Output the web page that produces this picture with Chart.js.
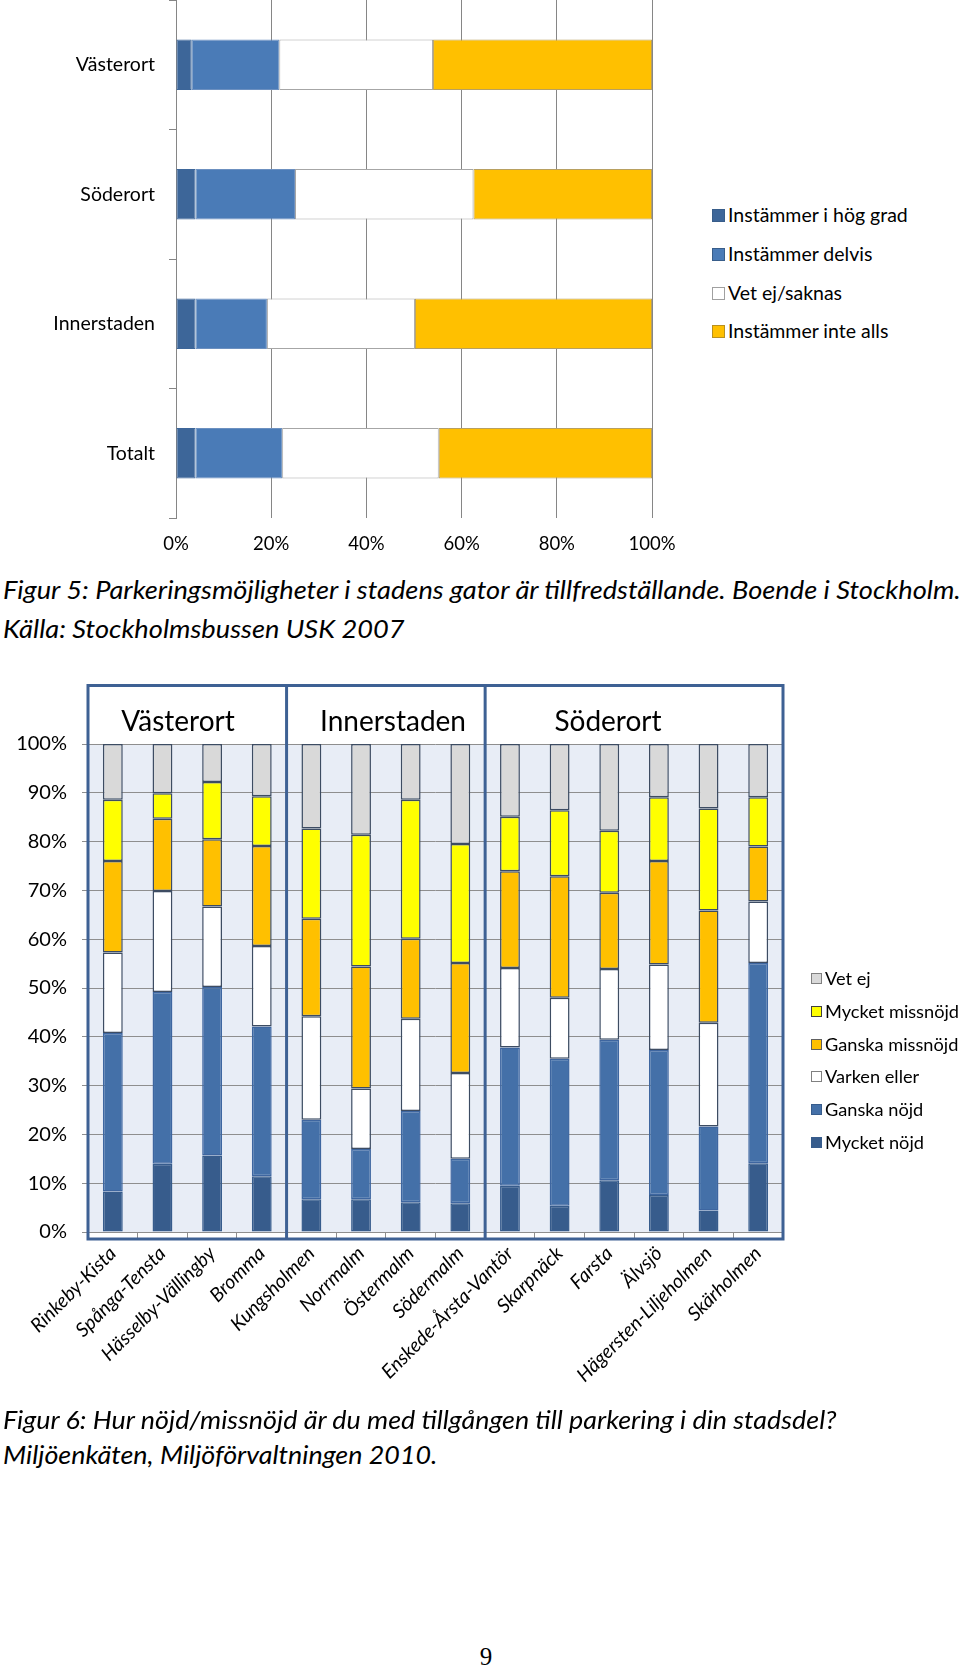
<!DOCTYPE html>
<html><head><meta charset="utf-8">
<script src="https://cdn.jsdelivr.net/npm/chart.js@4.4.1/dist/chart.umd.min.js"></script>
<style>
body{margin:0;width:960px;height:1671px;position:relative;background:#fff;overflow:hidden;font-family:Lato,sans-serif;color:#000;}
.wrap{position:absolute;}
#c1wrap{left:0;top:0;width:700px;height:560px;}
#c2wrap{left:0;top:684px;width:960px;height:720px;}
.cap{position:absolute;left:3px;font-family:Lato,sans-serif;font-style:italic;white-space:nowrap;transform-origin:0 50%;line-height:30px;height:30px;}
.leg{position:absolute;white-space:nowrap;}
.box{position:absolute;box-sizing:border-box;}
.hdr{position:absolute;font-family:Lato,sans-serif;font-size:28px;line-height:32px;height:32px;transform:translateX(-50%);white-space:nowrap;}
#pg{position:absolute;left:486px;top:1643px;transform:translateX(-50%);font-family:"Liberation Serif","DejaVu Serif",serif;font-size:25px;line-height:28px;}
</style>
</head><body>
<div id="c1wrap" class="wrap"><canvas id="c1" width="700" height="560"></canvas></div>
<div id="c2wrap" class="wrap"><canvas id="c2" width="960" height="720"></canvas></div>
<div id="cap1a" class="cap" style="top:574px;font-size:26px;">Figur 5: Parkeringsmöjligheter i stadens gator är tillfredställande. Boende i Stockholm.</div>
<div id="cap1b" class="cap" style="top:613px;font-size:26px;">Källa: Stockholmsbussen USK 2007</div>
<div id="cap2a" class="cap" style="top:1404px;font-size:26px;">Figur 6: Hur nöjd/missnöjd är du med tillgången till parkering i din stadsdel?</div>
<div id="cap2b" class="cap" style="top:1439px;font-size:26px;">Miljöenkäten, Miljöförvaltningen 2010.</div>
<div id="pg">9</div>
<script>
// ---------- Chart 1 data ----------
const areas = ['Västerort', 'Söderort', 'Innerstaden', 'Totalt'];
const seriesNames1 = ['Instämmer i hög grad', 'Instämmer delvis', 'Vet ej/saknas', 'Instämmer inte alls'];
const hogGrad = [3.3, 4.1, 4.1, 4.1];
const delvis = [18.4, 20.9, 15.0, 18.2];
const vetEjSaknas = [32.3, 37.5, 31.1, 32.9];
const inteAlls = [46.0, 37.5, 49.8, 44.8];
const xTicks1 = [0, 20, 40, 60, 80, 100];

// ---------- Chart 2 data ----------
const districts = ['Rinkeby-Kista', 'Spånga-Tensta', 'Hässelby-Vällingby', 'Bromma', 'Kungsholmen', 'Norrmalm', 'Östermalm', 'Södermalm', 'Enskede-Årsta-Vantör', 'Skarpnäck', 'Farsta', 'Älvsjö', 'Hägersten-Liljeholmen', 'Skärholmen'];
const sections = ['Västerort', 'Innerstaden', 'Söderort'];
const sectionSizes = [4, 4, 6];
const seriesNames2 = ['Mycket nöjd', 'Ganska nöjd', 'Varken eller', 'Ganska missnöjd', 'Mycket missnöjd', 'Vet ej'];
const mycketNojd = [8.3, 14.0, 15.7, 11.4, 6.7, 6.7, 6.1, 5.9, 9.5, 5.4, 10.6, 7.6, 4.4, 14.1];
const ganskaNojd = [32.5, 35.2, 34.5, 30.7, 16.3, 10.3, 18.7, 9.1, 28.3, 30.1, 28.8, 29.7, 17.2, 41.0];
const varkenEller = [16.5, 20.7, 16.5, 16.5, 21.2, 12.4, 18.9, 17.6, 16.3, 12.5, 14.5, 17.5, 21.3, 12.6];
const ganskaMissnojd = [18.7, 14.8, 13.8, 20.5, 20.0, 25.0, 16.4, 22.5, 19.8, 24.9, 15.6, 21.2, 23.0, 11.3];
const mycketMissnojd = [12.6, 5.2, 11.7, 10.2, 18.5, 27.0, 28.5, 24.4, 11.2, 13.5, 12.7, 13.1, 20.9, 10.1];
const vetEj = [11.4, 10.1, 7.8, 10.7, 17.3, 18.6, 11.4, 20.5, 14.9, 13.6, 17.8, 10.9, 13.2, 10.9];

Chart.defaults.color = '#000';
Chart.defaults.font.family = 'Lato, sans-serif';

// ---------- Chart 1 ----------
const c1colors = ['#3D6699', '#4A7BB7', '#FFFFFF', '#FFC000'];
const c1borders = ['#3D6699', '#6C90C0', '#A6A6A6', '#B8A060'];
const c1values = [hogGrad, delvis, vetEjSaknas, inteAlls];
new Chart(document.getElementById('c1'), {
  type: 'bar',
  data: {
    labels: areas,
    datasets: seriesNames1.map((n, i) => ({
      label: n, data: c1values[i], backgroundColor: c1colors[i], borderColor: c1borders[i],
      borderWidth: 1, borderSkipped: false, barPercentage: 0.39, categoryPercentage: 1
    }))
  },
  options: {
    indexAxis: 'y', responsive: false, animation: false,
    layout: { padding: { left: 0, top: 0, right: 48, bottom: 0 } },
    plugins: { legend: { display: false }, tooltip: { enabled: false } },
    scales: {
      x: {
        stacked: true, min: 0, max: 100,
        afterBuildTicks: s => { s.ticks = xTicks1.map(v => ({ value: v })); },
        afterFit: s => { s.height = 42; },
        grid: { color: '#868686', lineWidth: 1, drawTicks: false },
        border: { display: false },
        ticks: { padding: 15, font: { size: 18.5 }, callback: v => v + '%' }
      },
      y: {
        stacked: true,
        afterFit: s => { s.width = 176; s.paddingTop = 0; s.paddingBottom = 0; },
        grid: { offset: true, drawOnChartArea: false, tickLength: 7, color: '#868686' },
        border: { display: true, color: '#868686' },
        ticks: { padding: 14, font: { size: 19.5 } }
      }
    }
  }
});

// ---------- Chart 2 ----------
const c2colors = ['#375C8C', '#4470A8', '#FFFFFF', '#FFC000', '#FFFF00', '#D9D9D9'];
const c2borders = ['#375C8C', '#3E66A0', '#3D4C62', '#3D4C62', '#3D4C62', '#3D4C62'];
const c2values = [mycketNojd, ganskaNojd, varkenEller, ganskaMissnojd, mycketMissnojd, vetEj];

const framePlugin = {
  id: 'frame',
  beforeDraw(chart) {
    const a = chart.chartArea, ctx = chart.ctx;
    ctx.save(); ctx.fillStyle = '#E8EDF6';
    ctx.fillRect(a.left, a.top, a.right - a.left, a.bottom - a.top);
    ctx.restore();
  },
  afterDraw(chart) {
    const a = chart.chartArea, ctx = chart.ctx, x = chart.scales.x;
    const top = 1.5, bottom = a.bottom + 7;
    ctx.save();
    ctx.strokeStyle = '#3E6194'; ctx.lineWidth = 3;
    ctx.strokeRect(a.left, top, a.right - a.left, bottom - top);
    let idx = 0;
    for (let s = 0; s < sectionSizes.length - 1; s++) {
      idx += sectionSizes[s];
      const px = (x.getPixelForValue(idx - 1) + x.getPixelForValue(idx)) / 2;
      ctx.beginPath(); ctx.moveTo(px, top); ctx.lineTo(px, bottom); ctx.stroke();
    }
    ctx.restore();
  }
};

new Chart(document.getElementById('c2'), {
  type: 'bar',
  data: {
    labels: districts,
    datasets: seriesNames2.map((n, i) => ({
      label: n, data: c2values[i], backgroundColor: c2colors[i], borderColor: c2borders[i],
      borderWidth: 1.5, borderSkipped: false, barPercentage: 0.4, categoryPercentage: 1
    }))
  },
  options: {
    responsive: false, animation: false,
    layout: { padding: { left: 0, top: 60, right: 177, bottom: 0 } },
    plugins: { legend: { display: false }, tooltip: { enabled: false } },
    scales: {
      x: {
        stacked: true,
        afterFit: s => { s.height = 172; },
        grid: { offset: true, drawOnChartArea: false, tickLength: 7, color: '#8E8E8E' },
        border: { display: false },
        ticks: { autoSkip: false, maxRotation: 45, minRotation: 45, padding: 3, font: { size: 19.5, style: 'italic' } }
      },
      y: {
        stacked: true, min: 0, max: 100,
        afterFit: s => { s.width = 88; },
        grid: { color: '#8E8E8E', tickLength: 6 },
        border: { display: false },
        ticks: { stepSize: 10, padding: 15, font: { size: 20 }, callback: v => v + '%' }
      }
    }
  },
  plugins: [framePlugin]
});

// ---------- section headers ----------
const hdrCenters = [178, 393, 608];
sections.forEach((s, i) => {
  const d = document.createElement('div');
  d.className = 'hdr'; d.textContent = s;
  d.style.left = hdrCenters[i] + 'px'; d.style.top = '704px';
  document.body.appendChild(d);
});

// ---------- legends ----------
function addLegend(names, fills, borders, boxX, boxSize, textX, ys, fontSize) {
  names.forEach((n, i) => {
    const b = document.createElement('div');
    b.className = 'box';
    b.style.cssText = `left:${boxX}px;top:${ys[i] - boxSize / 2}px;width:${boxSize}px;height:${boxSize}px;background:${fills[i]};border:1px solid ${borders[i]};`;
    document.body.appendChild(b);
    const t = document.createElement('div');
    t.className = 'leg'; t.textContent = n;
    t.style.cssText = `left:${textX}px;top:${ys[i] - 12}px;line-height:24px;font-size:${fontSize}px;`;
    document.body.appendChild(t);
  });
}
addLegend(seriesNames1, c1colors, ['#385D8A', '#385D8A', '#A0A0A0', '#B89020'], 712, 13, 728, [215, 254, 293, 331], 19.5);
const rev = a => a.slice().reverse();
addLegend(rev(seriesNames2), rev(c2colors), ['#808080', '#404040', '#606060', '#808080', '#375C8C', '#375C8C'], 811, 11, 825, [978, 1011, 1044, 1076, 1109, 1142], 18.2);

// ---------- fit captions ----------
function fit(ids, targetW) {
  const first = document.getElementById(ids[0]);
  const k = targetW / first.scrollWidth;
  ids.forEach(id => { document.getElementById(id).style.transform = `scaleX(${k})`; });
}
fit(['cap1a', 'cap1b'], 958);
fit(['cap2a', 'cap2b'], 833);
</script>
</body></html>
